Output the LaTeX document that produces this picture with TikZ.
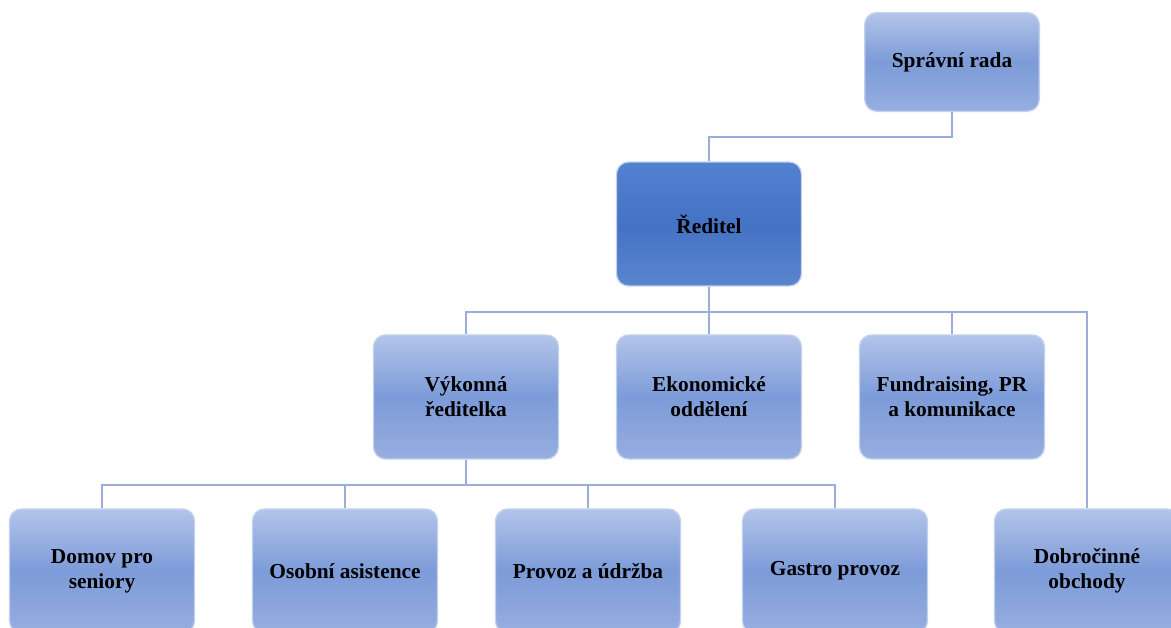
\documentclass[tikz,border=0pt]{standalone}
\usepackage{fontspec}
\setmainfont{Liberation Serif}
\usetikzlibrary{positioning}
\definecolor{boxtop}{HTML}{B3C4EA}
\definecolor{boxmid}{HTML}{7C9BD8}
\definecolor{boxbot}{HTML}{97AEE0}
\definecolor{headtop}{HTML}{5282D0}
\definecolor{headmid}{HTML}{4472C4}
\definecolor{headbot}{HTML}{5A85CE}
\definecolor{boxedge}{HTML}{C3D1EE}
\definecolor{linkcol}{HTML}{9BADDA}
\begin{document}
\begin{tikzpicture}[x=0.75pt,y=-0.75pt,semithick]
\tikzstyle{unit}=[rounded corners=9pt,draw=boxedge,line width=1pt,
  top color=boxtop,bottom color=boxbot,middle color=boxmid,
  minimum width=138.75pt,minimum height=93pt,align=center,
  font=\fontsize{16}{18.5}\selectfont\bfseries,text=black]
\tikzstyle{head}=[unit,top color=headtop,bottom color=headbot,middle color=headmid]
\tikzstyle{link}=[draw=linkcol,line width=1.7pt]
\useasboundingbox (0,0) rectangle (1171,628);
\clip (0,0) rectangle (1171,628);
\node[unit,minimum width=131pt,minimum height=74pt] (rada) at (952,62) {Správní rada};
\node[head] (reditel) at (709,224) {Ředitel};
\node[unit] (vykonna) at (466,397) {Výkonná\\ředitelka};
\node[unit] (ekonom) at (709,397) {Ekonomické\\oddělení};
\node[unit] (fundr) at (952,397) {Fundraising, PR\\a komunikace};
\node[unit] (domov) at (102,571) {Domov pro\\seniory};
\node[unit] (asist) at (345,571) {Osobní asistence};
\node[unit] (provoz) at (588,571) {Provoz a údržba};
\node[unit] (gastro) at (835,571) {Gastro provoz};
\node[unit] (obchody) at (1087,571) {Dobročinné\\obchody};
\draw[link] (rada.south) -- ++(0,25) -| (reditel.north);
\draw[link] (reditel.south) -- ++(0,25) -| (vykonna.north);
\draw[link] (reditel.south) -- (ekonom.north);
\draw[link] (reditel.south) -- ++(0,25) -| (fundr.north);
\draw[link] (reditel.south) -- ++(0,25) -| (obchody.north);
\draw[link] (vykonna.south) -- ++(0,25) -| (domov.north);
\draw[link] (vykonna.south) -- ++(0,25) -| (asist.north);
\draw[link] (vykonna.south) -- ++(0,25) -| (provoz.north);
\draw[link] (vykonna.south) -- ++(0,25) -| (gastro.north);
\end{tikzpicture}
\end{document}
